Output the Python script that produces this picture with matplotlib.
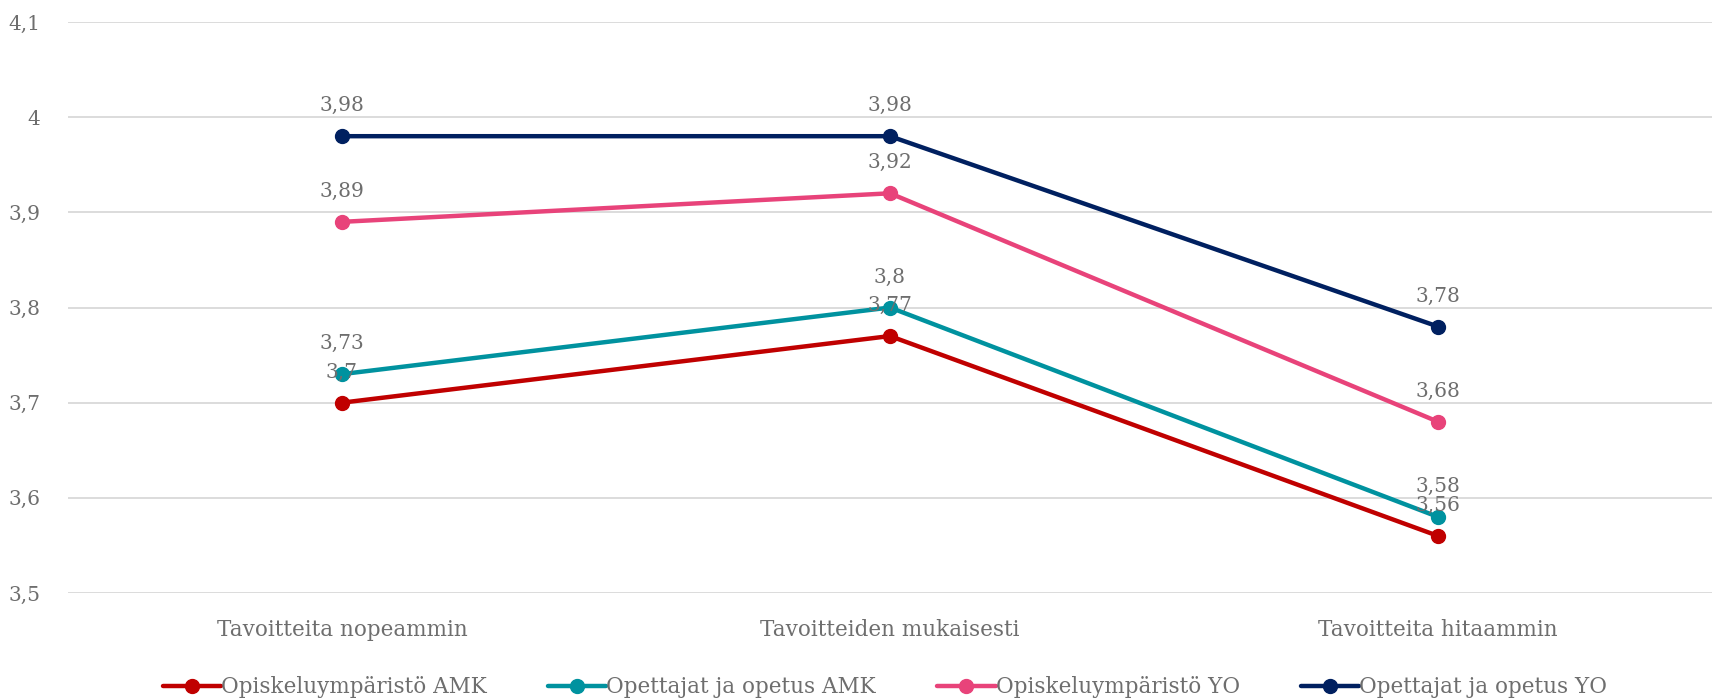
import matplotlib
matplotlib.use('Agg')
import matplotlib.pyplot as plt
from matplotlib.ticker import FuncFormatter, MultipleLocator

# Data
categories = ['Tavoitteita nopeammin', 'Tavoitteiden mukaisesti', 'Tavoitteita hitaammin']
series_names = ['Opiskeluympäristö AMK', 'Opettajat ja opetus AMK',
                'Opiskeluympäristö YO', 'Opettajat ja opetus YO']
opisk_amk = [3.70, 3.77, 3.56]
opett_amk = [3.73, 3.80, 3.58]
opisk_yo = [3.89, 3.92, 3.68]
opett_yo = [3.98, 3.98, 3.78]
colors = ['#C00000', '#00929F', '#E8437A', '#002060']

text_color = '#6E6E6E'
plt.rcParams['font.family'] = ['DejaVu Serif']


def fi(v):
    return f'{v:g}'.replace('.', ',')


fig = plt.figure(figsize=(17.12, 6.98), dpi=100)
ax = fig.add_axes([0.0397, 0.1504, 0.9603, 0.8181])

x = list(range(len(categories)))
for name, vals, c in zip(series_names, [opisk_amk, opett_amk, opisk_yo, opett_yo], colors):
    ax.plot(x, vals, color=c, lw=3.2, marker='o', markersize=10, label=name,
            solid_capstyle='round')
    for xi, v in zip(x, vals):
        ax.annotate(fi(v), (xi, v), xytext=(0, 22), textcoords='offset points',
                    ha='center', va='center', fontsize=14.5, color=text_color)

ax.set_xlim(-0.5, 2.5)
ax.set_ylim(3.5, 4.1)
ax.yaxis.set_major_locator(MultipleLocator(0.1))
ax.yaxis.set_major_formatter(FuncFormatter(lambda v, p: fi(round(v, 2))))
ax.set_xticks(x)
ax.set_xticklabels(categories)
ax.tick_params(axis='y', length=0, labelsize=14.5, labelcolor=text_color, pad=20)
ax.tick_params(axis='x', length=0, labelsize=15.5, labelcolor=text_color, pad=19)
ax.grid(axis='y', color='#D9D9D9', lw=1.3)
ax.set_axisbelow(True)
for s in ax.spines.values():
    s.set_visible(False)

fig.legend(loc='lower center', bbox_to_anchor=(0.517, -0.028), ncol=4, frameon=False,
           fontsize=15.5, labelcolor=text_color, handlelength=2.7, handletextpad=0.0,
           columnspacing=2.85)

fig.savefig('out.png', dpi=100)
